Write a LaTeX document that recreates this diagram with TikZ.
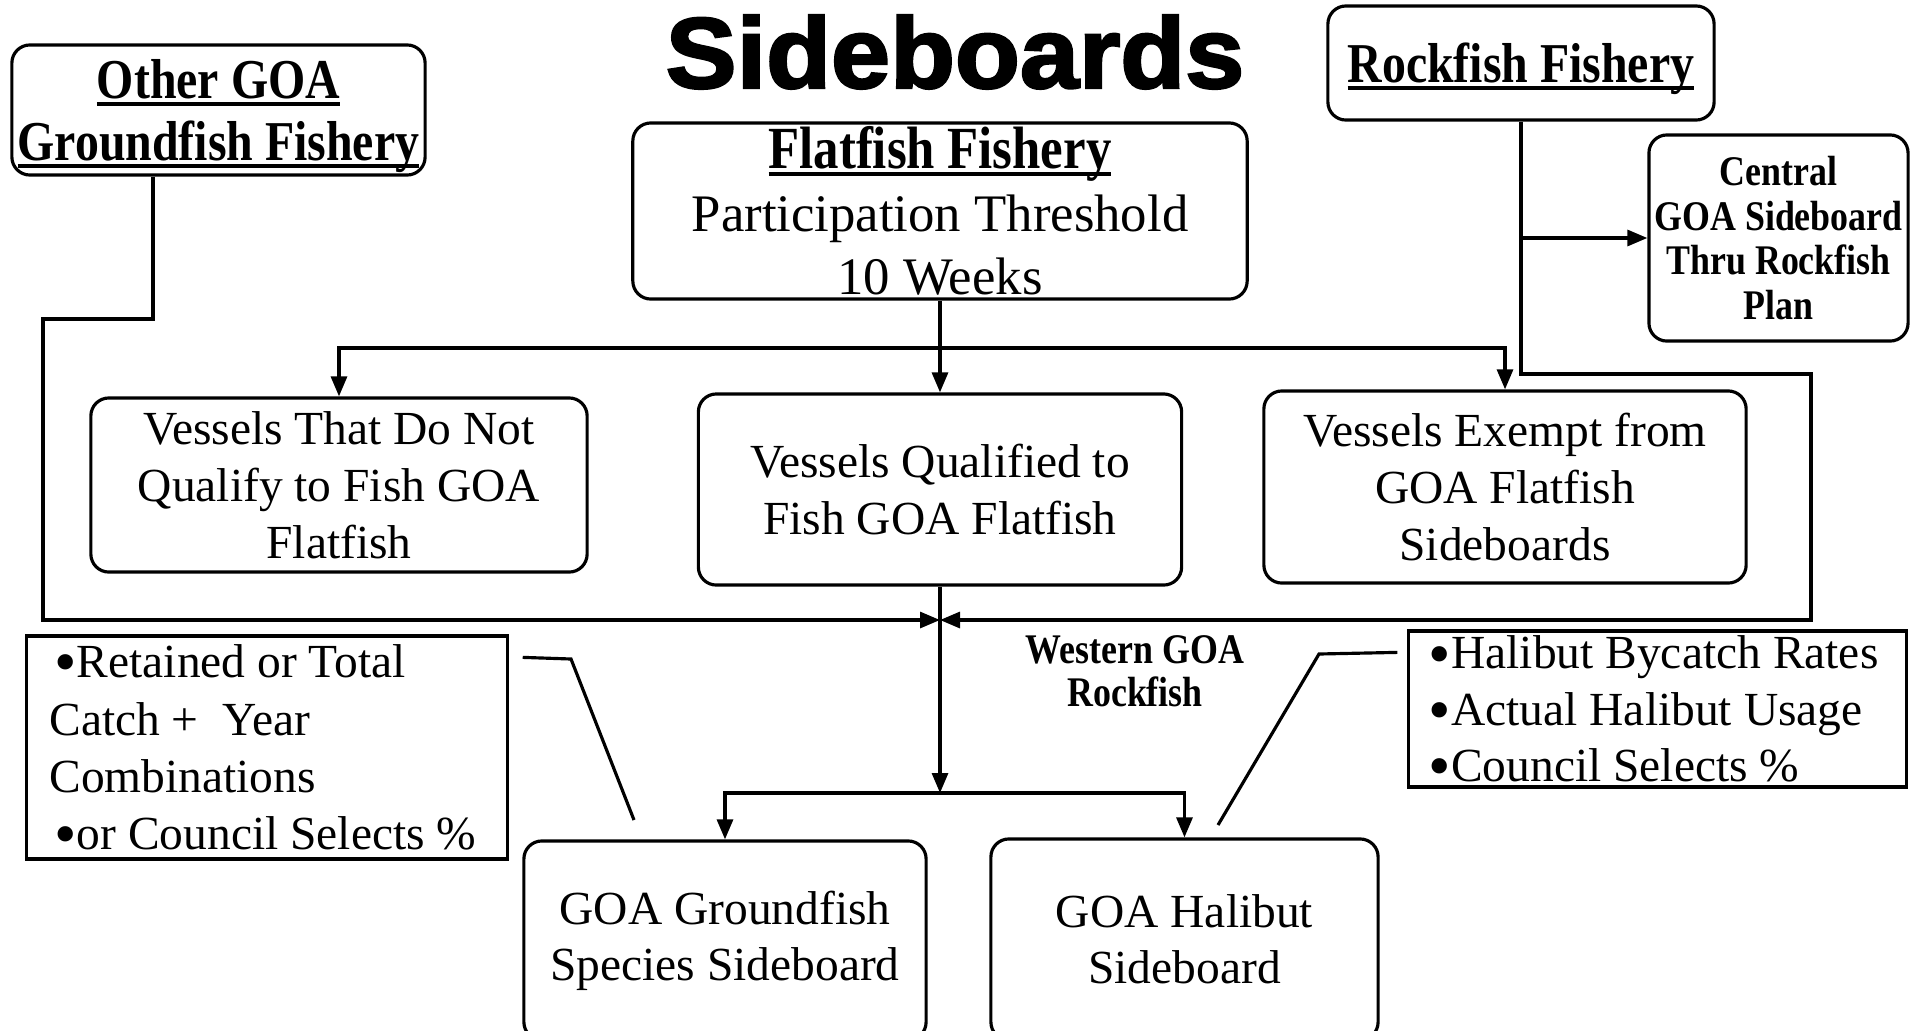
\documentclass[tikz,border=0pt]{standalone}
\usepackage{fontspec}
\setmainfont{Liberation Serif}
\newfontfamily\bcond{Liberation Serif Bold}[FakeStretch=0.85]
\newfontfamily\titlefont{Liberation Sans Bold}[FakeBold=2.5,FakeStretch=1.06]
\usetikzlibrary{arrows.meta}
% underline that sits just below the baseline, crossed by descenders
\newcommand\ulbox[1]{\setbox0=\hbox{#1}\rlap{\rule[-0.13em]{\wd0}{0.07em}}\box0}
% drop a line a little without changing the size that it reports
\newcommand\lowered[2]{\raisebox{-#1}[\height][\depth]{#2}}
% a heavier list bullet, kept within the line's height
\newcommand\bul{\raisebox{-0.13em}[0.5em][0em]{\scalebox{1.35}{•}}}

\begin{document}
\begin{tikzpicture}[x=0.01cm,y=-0.01cm,
  line width=0.9pt,
  rbox/.style={draw,rounded corners=0.18cm,inner sep=0pt,align=center},
  sbox/.style={draw,inner ysep=0pt,align=flush left},
  arr/.style={-{Triangle[length=0.2cm,width=0.16cm]}},
  plain/.style={font=\fontsize{13.5}{16.2}\selectfont},
  heavy/.style={font=\bcond\fontsize{16}{16.8}\selectfont},
]
\useasboundingbox (0,0) rectangle (1924,1030);
\clip (0,0) rectangle (1924,1030);
\fill[white] (0,0) rectangle (1924,1030);

% title
\node[font=\titlefont\fontsize{28.5}{30}\selectfont] (title) at (955,52) {Sideboards};

% fishery boxes
\node[rbox,heavy,minimum width=4.13cm,minimum height=1.30cm] (other) at (218.5,110)
  {\lowered{0.05cm}{\ulbox{Other GOA}}\\\lowered{0.075cm}{\ulbox{Groundfish Fishery}}};
\node[rbox,font=\fontsize{15}{18}\selectfont,minimum width=6.14cm,minimum height=1.76cm] (flat) at (940,211)
  {{\bcond\fontsize{17}{18}\selectfont\ulbox{Flatfish Fishery}}\\Participation Threshold\\10 Weeks};
\node[rbox,heavy,minimum width=3.86cm,minimum height=1.14cm] (rock) at (1521,63)
  {\lowered{0.06cm}{\ulbox{Rockfish Fishery}}};
\node[rbox,font=\bcond\fontsize{12}{12.7}\selectfont,minimum width=2.59cm,minimum height=2.06cm] (central) at (1778.5,238)
  {Central\\GOA Sideboard\\Thru Rockfish\\Plan};

% vessel groups
\node[rbox,plain,minimum width=4.96cm,minimum height=1.74cm] (vl) at (339,485)
  {Vessels That Do Not\\Qualify to Fish GOA\\Flatfish};
\node[rbox,plain,minimum width=4.83cm,minimum height=1.91cm] (vm) at (940,489.5)
  {Vessels Qualified to\\Fish GOA Flatfish};
\node[rbox,plain,minimum width=4.82cm,minimum height=1.92cm] (vr) at (1505,487)
  {Vessels Exempt from\\GOA Flatfish\\Sideboards};

% notes
\node[sbox,inner xsep=0.225cm,font=\fontsize{13.5}{16.3}\selectfont,minimum width=4.80cm,minimum height=2.23cm,text width=4.35cm] (noteL) at (267,747.5)
  {\hspace{0.05cm}\bul Retained or Total\\Catch + \ Year\\Combinations\\\hspace{0.05cm}\bul or Council Selects \%};
\node[sbox,inner xsep=0.2cm,font=\fontsize{13.5}{16}\selectfont,minimum width=4.97cm,minimum height=1.56cm,text width=4.57cm] (noteR) at (1657.5,709)
  {\bul Halibut Bycatch Rates\\\bul Actual Halibut Usage\\\bul Council Selects \%};

\node[font=\bcond\fontsize{12}{12.2}\selectfont,align=center] (wg) at (1135,671) {Western GOA\\Rockfish};

% sideboards
\node[rbox,font=\fontsize{13.5}{16}\selectfont,minimum width=4.02cm,minimum height=1.99cm] (gb1) at (725,940.5)
  {GOA Groundfish\\Species Sideboard};
\node[rbox,font=\fontsize{13.5}{16}\selectfont,minimum width=3.87cm,minimum height=2.01cm] (gb2) at (1184.5,939.5)
  {GOA Halibut\\Sideboard};

% bend points
\coordinate (sp) at (940,348);
\coordinate (jn) at (940,620);
\coordinate (sp2) at (940,793);
\coordinate (ob1) at (43,319);
\coordinate (rb1) at (1811,374);
\coordinate (cl1) at (571,659);
\coordinate (cl2) at (634,820);
\coordinate (cr1) at (1319,654);
\coordinate (cr2) at (1218,825);

% connectors
\draw[arr] (flat.south) -- (vm.north);
\draw[arr] (sp) -| (vl.north);
\draw[arr] (sp) -| (vr.north);
\draw[arr] ([xshift=-0.655cm]other.south) |- (ob1) |- (jn);
\draw[arr] (rock.south) |- (rb1) |- (jn);
\draw[arr] (rock.south |- central.west) -- (central.west);
\draw[arr] (vm.south) -- (sp2);
\draw[arr] (sp2) -| (gb1.north);
\draw[arr] (sp2) -| (gb2.north);
\draw ([shift={(0.14cm,-0.23cm)}]noteL.north east) -- (cl1) -- (cl2);
\draw ([shift={(-0.1cm,-0.23cm)}]noteR.north west) -- (cr1) -- (cr2);
\end{tikzpicture}
\end{document}
